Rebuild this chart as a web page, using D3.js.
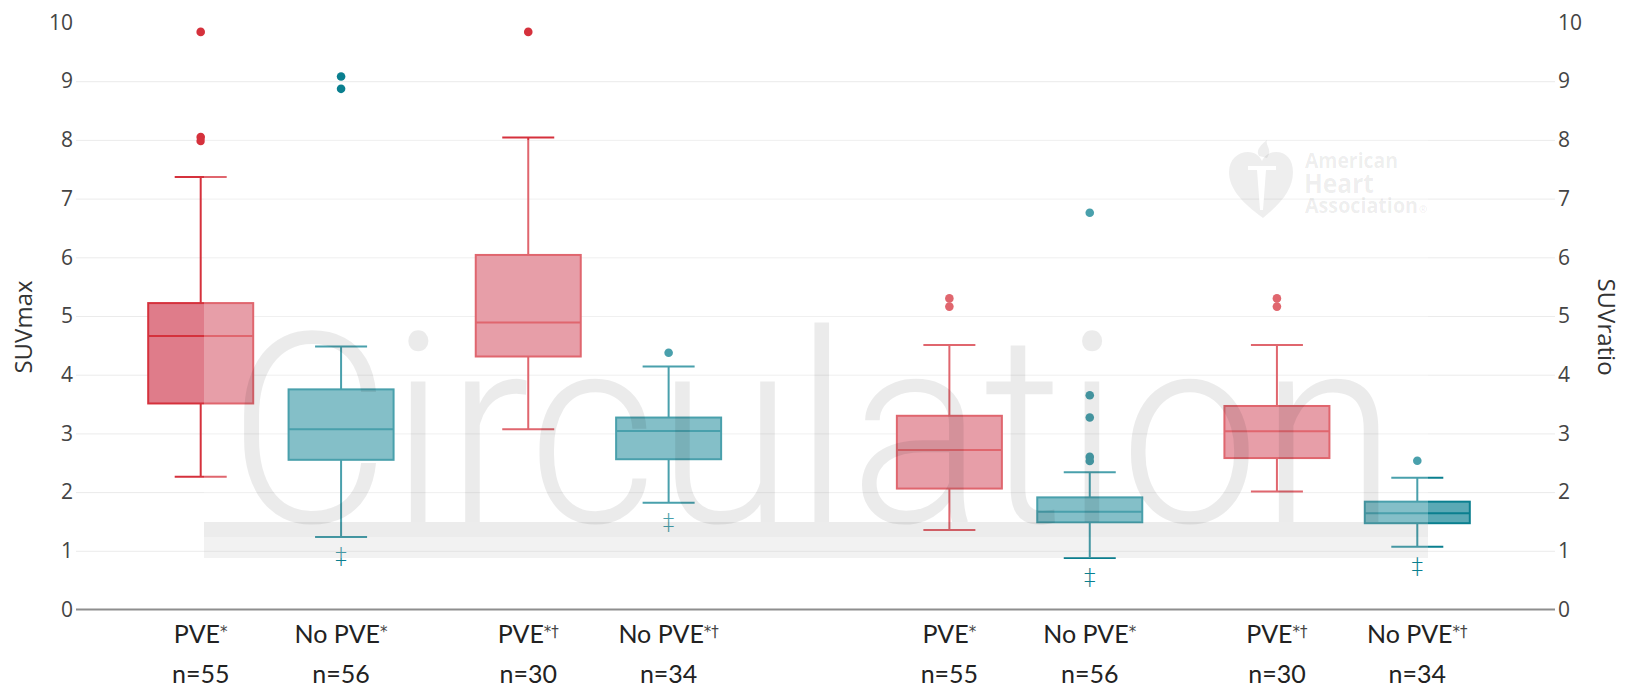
<!DOCTYPE html>
<html><head><meta charset="utf-8">
<script src="https://cdn.jsdelivr.net/npm/d3@7"></script>
<style>body{margin:0;background:#fff;} svg{display:block;}</style>
</head><body>
<svg id="c" width="1628" height="687"></svg>
<script>
// ---------------- data ----------------
const metrics = ["SUVmax", "SUVratio"];
const boxLabels = ["PVE*", "No PVE*", "PVE*†", "No PVE*†", "PVE*", "No PVE*", "PVE*†", "No PVE*†"];
const boxN = [55, 56, 30, 34, 55, 56, 30, 34];
const lowerWhisker = [2.26, 1.235, 3.07, 1.82, 1.354, 0.877, 2.01, 1.07];
const q1 = [3.51, 2.55, 4.31, 2.56, 2.06, 1.486, 2.58, 1.47];
const medians = [4.66, 3.07, 4.89, 3.04, 2.717, 1.666, 3.036, 1.64];
const q3 = [5.22, 3.75, 6.04, 3.27, 3.30, 1.91, 3.467, 1.837];
const upperWhisker = [7.37, 4.48, 8.04, 4.14, 4.506, 2.34, 4.506, 2.245];
const outliers = [
  [9.84, 8.05, 7.98],
  [9.08, 8.87],
  [9.84],
  [4.375],
  [5.30, 5.16],
  [6.76, 3.65, 3.27, 2.60, 2.53],
  [5.30, 5.16],
  [2.535]
];
const footnoteMark = ["", "‡", "", "‡", "", "‡", "", "‡"];
const yTicks = [0, 1, 2, 3, 4, 5, 6, 7, 8, 9, 10];
const gridTicks = [1, 2, 3, 4, 5, 6, 7, 8, 9];

// ---------------- layout ----------------
const plotL = 76, plotR = 1555;
const svg = d3.select("#c");
const y = d3.scaleLinear().domain([0, 10]).range([609.5, 22.5]);
// slot position: metric group, subset, status
const slotOf = i => Math.floor(i / 4) * 16 + (Math.floor(i / 2) % 2) * 7 + (i % 2) * 3;
const x = d3.scaleLinear().domain([0, 26]).range([200.7, 1417.3]);
const boxHalf = 52.5, capHalf = 26;

const colors = {
  red:  {line: "#d5313c", fill: "#df7c8a"},
  teal: {line: "#0a7f8f", fill: "#5aa9b5"}
};
const boxes = boxLabels.map((lab, i) => ({
  i, lab, n: boxN[i], cx: x(slotOf(i)),
  lw: lowerWhisker[i], q1: q1[i], med: medians[i], q3: q3[i], uw: upperWhisker[i],
  out: outliers[i], mark: footnoteMark[i],
  col: lab.startsWith("No") ? colors.teal : colors.red
}));

// ---------------- grid ----------------
const grid = svg.append("g").attr("transform", `translate(${plotL},0)`)
  .call(d3.axisLeft(y).tickValues(gridTicks).tickSize(-(plotR - plotL)).tickFormat(""));
grid.select(".domain").remove();
grid.selectAll("line").attr("stroke", "#ebebeb").attr("stroke-width", 1);

svg.append("line").attr("x1", plotL).attr("x2", plotR)
  .attr("y1", y(0)).attr("y2", y(0)).attr("stroke", "#8e8e8e").attr("stroke-width", 2);

// ---------------- boxes ----------------
const bg = svg.append("g");
boxes.forEach(b => {
  const g = bg.append("g");
  const st = {stroke: b.col.line, w: 2};
  g.append("line").attr("x1", b.cx).attr("x2", b.cx).attr("y1", y(b.lw)).attr("y2", y(b.q1))
    .attr("stroke", st.stroke).attr("stroke-width", st.w);
  g.append("line").attr("x1", b.cx).attr("x2", b.cx).attr("y1", y(b.q3)).attr("y2", y(b.uw))
    .attr("stroke", st.stroke).attr("stroke-width", st.w);
  [b.lw, b.uw].forEach(v => g.append("line")
    .attr("x1", b.cx - capHalf).attr("x2", b.cx + capHalf).attr("y1", y(v)).attr("y2", y(v))
    .attr("stroke", st.stroke).attr("stroke-width", st.w));
  g.append("rect").attr("x", b.cx - boxHalf).attr("width", boxHalf * 2)
    .attr("y", y(b.q3)).attr("height", y(b.q1) - y(b.q3))
    .attr("fill", b.col.fill).attr("stroke", st.stroke).attr("stroke-width", st.w);
  g.append("line").attr("x1", b.cx - boxHalf).attr("x2", b.cx + boxHalf)
    .attr("y1", y(b.med)).attr("y2", y(b.med)).attr("stroke", st.stroke).attr("stroke-width", st.w);
  g.selectAll("circle").data(b.out).join("circle")
    .attr("cx", b.cx).attr("cy", d => y(d)).attr("r", 4.3).attr("fill", b.col.line);
  if (b.mark) {
    g.append("text").attr("x", b.cx).attr("y", y(b.lw) + 27)
      .attr("text-anchor", "middle").attr("font-family", "DejaVu Sans").attr("font-weight", 200)
      .attr("font-size", 23).attr("fill", b.col.line).text(b.mark);
  }
});

// ---------------- watermark ----------------
const wm = svg.append("g");
wm.append("rect").attr("x", 204).attr("y", 140).attr("width", 1224).attr("height", 418)
  .attr("fill", "#fff").attr("opacity", 0.26);
wm.append("text").attr("x", 228).attr("y", 522)
  .attr("font-family", "Roboto").attr("font-weight", 300).attr("font-size", 266)
  .attr("textLength", 1169).attr("lengthAdjust", "spacingAndGlyphs")
  .attr("fill", "#000").attr("fill-opacity", 0.078).text("Circulation");
wm.append("rect").attr("x", 204).attr("y", 522).attr("width", 1224).attr("height", 15)
  .attr("fill", "#000").attr("fill-opacity", 0.075);
wm.append("rect").attr("x", 204).attr("y", 537).attr("width", 1224).attr("height", 21)
  .attr("fill", "#000").attr("fill-opacity", 0.05);
// AHA logo
const logo = wm.append("g").attr("transform", "translate(1229,152)");
logo.append("path")
  .attr("d", "M34,66 C12,50 0,36 0,20 C0,7 9,0 19,0 C26,0 31,4 33,9 C35,4 40,0 47,0 C57,0 64,7 64,20 C64,36 54,50 34,66 Z")
  .attr("fill", "#000").attr("fill-opacity", 0.065);
logo.append("path")
  .attr("d", "M30,4 C26,-2 33,-8 38,-12 C36,-6 44,-3 38,6 Z")
  .attr("fill", "#000").attr("fill-opacity", 0.065);
logo.append("path")
  .attr("d", "M19,14 L47,14 L47,18 L37,18 L34,58 L31,58 L28,18 L19,18 Z")
  .attr("fill", "#fff");
const lt = wm.append("g").attr("font-family", "Open Sans").attr("font-weight", 700)
  .attr("fill", "#000").attr("fill-opacity", 0.075);
lt.append("text").attr("x", 1305).attr("y", 168).attr("font-size", 21)
  .attr("textLength", 93).attr("lengthAdjust", "spacingAndGlyphs").text("American");
lt.append("text").attr("x", 1304).attr("y", 193).attr("font-size", 27)
  .attr("textLength", 70).attr("lengthAdjust", "spacingAndGlyphs").text("Heart");
const as = lt.append("text").attr("x", 1305).attr("y", 213).attr("font-size", 21);
as.append("tspan").attr("textLength", 113).attr("lengthAdjust", "spacingAndGlyphs").text("Association");
as.append("tspan").attr("font-size", 10).attr("dx", 1).text("®");

// ---------------- axes labels ----------------
const axL = svg.append("g").attr("transform", `translate(${plotL},0)`)
  .call(d3.axisLeft(y).tickValues(yTicks).tickSize(0).tickPadding(3));
const axR = svg.append("g").attr("transform", `translate(${plotR},0)`)
  .call(d3.axisRight(y).tickValues(yTicks).tickSize(0).tickPadding(3));
[axL, axR].forEach(a => {
  a.select(".domain").remove();
  a.selectAll("text").attr("font-family", "Open Sans").attr("font-size", 21).attr("fill", "#444");
});

svg.append("text").attr("transform", "translate(22,327) rotate(-90)")
  .attr("text-anchor", "middle").attr("dominant-baseline", "central")
  .attr("font-family", "Open Sans").attr("font-size", 24).attr("fill", "#333").text(metrics[0]);
svg.append("text").attr("transform", "translate(1607,327) rotate(90)")
  .attr("text-anchor", "middle").attr("dominant-baseline", "central")
  .attr("font-family", "Open Sans").attr("font-size", 24).attr("fill", "#333").text(metrics[1]);

// category labels
const xl = svg.append("g").attr("font-family", "Lato").attr("fill", "#222");
boxes.forEach(b => {
  const k = b.lab.indexOf("*");
  const t = xl.append("text").attr("x", b.cx).attr("y", 643).attr("text-anchor", "middle").attr("font-size", 25);
  t.append("tspan").text(b.lab.slice(0, k));
  t.append("tspan").attr("font-family", "DejaVu Sans").attr("font-size", 15).attr("dy", -6).attr("fill", "#444")
    .text(b.lab.slice(k));
  xl.append("text").attr("x", b.cx).attr("y", 683).attr("text-anchor", "middle")
    .attr("font-size", 25).text("n=" + b.n);
});
</script>
</body></html>
